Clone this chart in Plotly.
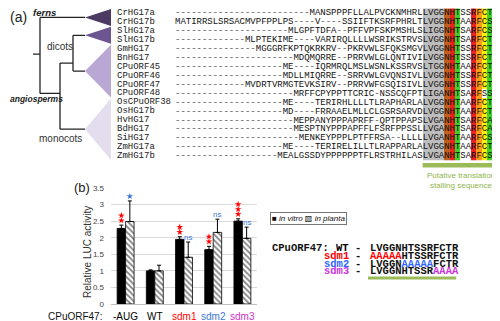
import plotly.graph_objects as go

# The page body adds an 8px margin, so the figure is laid out in page pixels
# shifted by that offset.
OFF = 8
W, H = 500 - OFF, 321 - OFF

def px(x):
    return (x - OFF) / W

def py(y):
    return 1 - (y - OFF) / H

# ---------------- Panel (a) data ----------------
seq_names = ["CrHG17a", "CrHG17b", "SlHG17a", "SlHG17b", "GmHG17", "BnHG17",
             "CPuORF45", "CPuORF46", "CPuORF47", "CPuORF48", "OsCPuORF38",
             "OsHG17b", "HvHG17", "BdHG17", "SiHG17", "ZmHG17a", "ZmHG17b"]
seq_residues = [
    "MANSPPPFLLALPVCKNMHRLLVGGNHTSSRFCTR",
    "MATIRRSLSRSACMVPFPPLPS----V----SSIIFTKSRFPHRLTLVGGNHTAARFCSR",
    "MLGPFTDFA--PFFVPFSKPMSHLSLIGGNHTSARFCSR",
    "MLPTEKIME----VARIRQLLLLWSRIKSTRVSLVGGNHTSARFCTR",
    "MGGGRFKPTQKRKRV--PKRVWLSFQKSMGVLVGGNHTSSRFCTR",
    "MDQMQRRE--PRRVWLGLQNTIVILVGGNHTSSRFCTR",
    "ME----IQRMRQLMSLWSNLKSSRVSLTGGNHTAARFCTR",
    "MDLLMIQRRE--SRRVWLGVQNSIVLLVGGNHTSSRFCTR",
    "MVDRTVRMGTEVKSIRV--PRRVWFGSQISIVLLVGGNHTSSRFCTR",
    "MRFFCPYPPTTCRIC-NSSCQFPTLIGANHTSARFSSR",
    "ME----TERIRHLLLLTLRAPHARLALVGGNHTAARFCTR",
    "MD----FRRAAELMLLCLGSRSARVDLVGGNHTAARFCTR",
    "MEPPANYPPPAPRFF-QPTPPAPSLVGANHTSARFCAR",
    "MESPTNYPPPAPFFLFSRFPPSSLLVGANHTSARFCAR",
    "MENKEYPPPLPTFFRSA--LLLLLVGANHTAARFCSR",
    "ME----TERIRELILLTLRAPPARLALVGGNHTAARFCTR",
    "MEALGSSDYPPPPPPTFLRSTRHILASLVGANHTSARFCSR",
]
ALN_LEN = 60
alignment = [s.rjust(ALN_LEN, "-") for s in seq_residues]

# highlight colour class of each alignment column (by column index)
column_class = {46: 1, 47: 1, 48: 1, 49: 1, 50: 2, 51: 3, 52: 4,
                55: 3, 56: 5, 57: 6, 58: 4, 59: 3}
class_colors = ["rgba(255,255,255,0)", "#bdbdbd", "#c0601e", "#ee2020",
                "#3fd02a", "#ff9a1a", "#ffee10"]

clades = [("ferns", 0, 1, "#4a3a64"), ("Sl", 2, 3, "#6c5692"),
          ("dicots", 4, 9, "#b9a8d3"), ("monocots", 10, 16, "#e4ddee")]
green_arrows = [7, 8]
red_arrows = [10]

# ---------------- Panel (b) data ----------------
constructs = ["-AUG", "WT", "sdm1", "sdm2", "sdm3"]
construct_colors = ["#000000", "#000000", "#ff0000", "#3a78d8", "#cc33cc"]
in_vitro = [2.28, 1.00, 1.95, 1.64, 2.50]
in_vitro_err = [0.10, 0.03, 0.08, 0.10, 0.07]
in_planta = [2.49, 1.00, 1.41, 2.16, 1.98]
in_planta_err = [0.62, 0.17, 0.46, 0.40, 0.34]
in_vitro_stars = [2, 0, 2, 2, 3]
in_planta_sig = ["*", "", "ns", "ns", "ns"]
y_ticks = [0, 0.5, 1, 1.5, 2, 2.5, 3, 3.5]

wt_motif = "LVGGNHTSSRFCTR"
mutant_names = ["WT", "sdm1", "sdm2", "sdm3"]
mutant_colors = ["#000000", "#ff0000", "#3366ff", "#cc33dd"]
mutant_seqs = ["LVGGNHTSSRFCTR", "AAAAAHTSSRFCTR", "LVGGNAAAAAFCTR", "LVGGNHTSSRAAAA"]

# alignment grid geometry (page pixels)
ROW0_Y, ROW_PITCH = 13.0, 8.94
n_rows = len(alignment)

fig = go.Figure()

# ---- alignment highlight cells (heatmap) ----
z = []
for r in range(n_rows):
    row = []
    for c in range(ALN_LEN):
        k = column_class.get(c, 0)
        if r == 9 and c == 57:
            k = 0
        row.append(k)
    z.append(row)
n = len(class_colors)
cs = []
for i, col in enumerate(class_colors):
    cs.append([i / n, col])
    cs.append([(i + 1) / n, col])
fig.add_trace(go.Heatmap(z=z, x=list(range(ALN_LEN)), y=list(range(n_rows)),
                         colorscale=cs, zmin=-0.5, zmax=n - 0.5, showscale=False,
                         hoverinfo="skip", xaxis="x2", yaxis="y2"))

# ---- alignment characters ----
tx, ty, tt, tc = [], [], [], []
for r, s in enumerate(alignment):
    for c, ch in enumerate(s):
        tx.append(c); ty.append(r); tt.append(ch)
        tc.append("#555555" if ch == "-" else "#111111")
fig.add_trace(go.Scatter(x=tx, y=ty, text=tt, mode="text", textposition="middle center",
                         textfont=dict(family="Liberation Mono", size=9, color=tc),
                         hoverinfo="skip", xaxis="x2", yaxis="y2", cliponaxis=False,
                         showlegend=False))

# ---- arrows ----
fig.add_trace(go.Scatter(x=[-0.8] * len(green_arrows), y=green_arrows, mode="markers",
                         marker=dict(symbol="triangle-left", size=8, color="#1a9a1a"),
                         xaxis="x2", yaxis="y2", cliponaxis=False, showlegend=False))
fig.add_trace(go.Scatter(x=[-0.8] * len(red_arrows), y=red_arrows, mode="markers",
                         marker=dict(symbol="triangle-left", size=8, color="#b04a3c"),
                         xaxis="x2", yaxis="y2", cliponaxis=False, showlegend=False))

# ---- bars ----
fig.add_trace(go.Bar(x=list(range(5)), y=in_vitro, name="in vitro",
                     marker=dict(color="black", line=dict(color="black", width=0.8)),
                     error_y=dict(type="data", array=in_vitro_err, arrayminus=[0] * 5,
                                  symmetric=False, color="black", thickness=1, width=2),
                     xaxis="x", yaxis="y", showlegend=False))
fig.add_trace(go.Bar(x=list(range(5)), y=in_planta, name="in planta",
                     marker=dict(color="white", line=dict(color="black", width=0.8),
                                 pattern=dict(shape="\\", fgcolor="black", bgcolor="white",
                                              size=4, solidity=0.45)),
                     error_y=dict(type="data", array=in_planta_err, arrayminus=[0] * 5,
                                  symmetric=False, color="black", thickness=1, width=2),
                     xaxis="x", yaxis="y", showlegend=False))

# ---- significance stars ----
sx, sy = [], []
for i in range(5):
    top = in_vitro[i] + in_vitro_err[i]
    for k in range(in_vitro_stars[i]):
        sx.append(i - 0.145); sy.append(top + 0.14 + 0.15 * k)
fig.add_trace(go.Scatter(x=sx, y=sy, mode="markers",
                         marker=dict(symbol="star", size=5, color="#ff0000", line=dict(width=0)),
                         xaxis="x", yaxis="y", cliponaxis=False, showlegend=False))
bx, by = [], []
for i in range(5):
    if in_planta_sig[i] == "*":
        bx.append(i + 0.145); by.append(in_planta[i] + in_planta_err[i] + 0.14)
fig.add_trace(go.Scatter(x=bx, y=by, mode="markers",
                         marker=dict(symbol="star", size=5, color="#3a78d8", line=dict(width=0)),
                         xaxis="x", yaxis="y", cliponaxis=False, showlegend=False))

annotations = []
shapes = []
for i in range(5):
    if in_planta_sig[i] == "ns":
        annotations.append(dict(x=i + 0.145, y=in_planta[i] + in_planta_err[i], xref="x", yref="y",
                                text="ns", yanchor="bottom", yshift=-2,
                                font=dict(family="Liberation Sans", size=8, color="#3a78d8")))

tree_font = "Liberation Sans"
# category labels under the bars
for i, (t, c) in enumerate(zip(constructs, construct_colors)):
    annotations.append(dict(x=i, xref="x", y=py(316), text=t,
                            font=dict(family=tree_font, size=10, color=c)))

# ---- tree (panel a) ----
for name, r0, r1, col in clades:
    shapes.append(dict(type="path", xref="paper", yref="y2",
                       path=f"M {px(85)} {(r0 + r1) / 2} L {px(111)} {r0 - 0.45} L {px(111)} {r1 + 0.45} Z",
                       fillcolor=col, line=dict(width=0), layer="below"))
tree_lines = [
    (33, 40, 4.6, 4.6), (40, 40, 0.5, 9.0), (40, 85, 0.5, 0.5), (40, 60, 9.0, 9.0),
    (60, 60, 5.6, 13.0), (60, 73, 5.6, 5.6), (73, 73, 2.5, 6.5), (73, 85, 2.5, 2.5),
    (73, 85, 6.5, 6.5), (60, 85, 13.0, 13.0),
]
for x0, x1, y0, y1 in tree_lines:
    shapes.append(dict(type="line", xref="paper", yref="y2", x0=px(x0), x1=px(x1), y0=y0, y1=y1,
                       line=dict(color="#222222", width=1.3)))

for r, nm in enumerate(seq_names):
    annotations.append(dict(x=px(115), y=r, xref="paper", yref="y2", text=nm,
                            xanchor="left", yanchor="middle",
                            font=dict(family="Liberation Mono", size=9, color="#222222")))

annotations += [
    dict(x=px(8), y=py(17), text="(a)", xanchor="left",
         font=dict(family=tree_font, size=14, color="#222")),
    dict(x=px(31), y=py(13), text="<b><i>ferns</i></b>", xanchor="left",
         font=dict(family=tree_font, size=9.5, color="#222")),
    dict(x=px(45), y=py(47), text="dicots", xanchor="left",
         font=dict(family=tree_font, size=10, color="#333")),
    dict(x=px(8), y=py(99), text="<b><i>angiosperms</i></b>", xanchor="left",
         font=dict(family=tree_font, size=8.5, color="#222")),
    dict(x=px(37), y=py(138), text="monocots", xanchor="left",
         font=dict(family=tree_font, size=10, color="#333")),
    dict(x=px(461), y=py(180), text="Putative translation<br>stalling sequence",
         font=dict(family="Liberation Sans", size=8, color="#8fb34d")),
]
shapes.append(dict(type="rect", xref="x2", yref="paper", x0=45.5, x1=59.5, y0=py(167.5), y1=py(163),
                   fillcolor="#9bbb59", line=dict(width=0)))

# ---- panel (b) texts ----
annotations += [
    dict(x=px(72), y=py(187), text="(b)", xanchor="left",
         font=dict(family=tree_font, size=13, color="#222")),
    dict(x=px(87), y=py(252), text="Relative LUC activity", textangle=-90,
         font=dict(family=tree_font, size=10, color="#333")),
    dict(x=px(104), y=py(316), text="CPuORF47:", xanchor="right",
         font=dict(family=tree_font, size=10, color="#111")),
    dict(x=px(308), y=py(218.5), text="■ <i>in vitro</i> ▧ <i>in planta</i>",
         font=dict(family="Liberation Sans, DejaVu Sans", size=8, color="#111"),
         bordercolor="#777", borderwidth=1, borderpad=1),
    dict(x=px(270), y=py(248), text="<b>CPuORF47:</b>", xanchor="left",
         font=dict(family="Liberation Mono", size=10.5, color="#111")),
]
row_y = [248, 256, 263.5, 271]
for nm, col, seq, yy in zip(mutant_names, mutant_colors, mutant_seqs, row_y):
    annotations.append(dict(x=px(351), y=py(yy), text=f"<b>{nm}</b>", xanchor="right",
                            font=dict(family="Liberation Mono", size=10.5, color=col)))
    annotations.append(dict(x=px(358), y=py(yy), text="<b>-</b>",
                            font=dict(family="Liberation Mono", size=10.5, color="#111")))
    parts = []
    for a, b in zip(seq, wt_motif):
        if a != b:
            parts.append(f"<span style='color:{col}'>{a}</span>")
        else:
            parts.append(a)
    annotations.append(dict(x=px(368), y=py(yy), text="<b>" + "".join(parts) + "</b>", xanchor="left",
                            font=dict(family="Liberation Mono", size=10.5, color="#111")))
shapes.append(dict(type="rect", xref="paper", yref="paper", x0=px(368), x1=px(368 + 14 * 6.3),
                   y0=py(279.5), y1=py(276.5), fillcolor="#9bbb59", line=dict(width=0)))

for a in annotations:
    a.setdefault("showarrow", False)
    a.setdefault("xref", "paper")
    a.setdefault("yref", "paper")
    a.setdefault("xanchor", "center")
    a.setdefault("yanchor", "middle")

# y2 axis: page-pixel rows; clamp the top of its domain to the figure top
y2_bottom_px = ROW0_Y + (n_rows - 0.5) * ROW_PITCH
y2_top_px = OFF
y2_range = [n_rows - 0.5, (y2_top_px - ROW0_Y) / ROW_PITCH]

fig.update_layout(
    width=W, height=H, margin=dict(l=0, r=0, t=0, b=0, autoexpand=False),
    paper_bgcolor="white", plot_bgcolor="rgba(0,0,0,0)",
    barmode="group", bargap=0.42, bargroupgap=0,
    showlegend=False,
    xaxis=dict(domain=[px(111), px(257)], range=[-0.5, 4.5], tickvals=list(range(5)),
               showticklabels=False,
               showgrid=False, zeroline=False, showline=True, linecolor="#bfbfbf", linewidth=1,
               ticks="", fixedrange=True, automargin=False),
    yaxis=dict(domain=[py(304), py(188)], range=[0, 3.5], tickvals=y_ticks,
               tickfont=dict(family=tree_font, size=8, color="#444"),
               gridcolor="#d9d9d9", gridwidth=1, zeroline=False, showline=False,
               ticklabelstandoff=6, fixedrange=True, automargin=False),
    xaxis2=dict(domain=[px(175), px(498)], range=[-0.5, ALN_LEN - 0.5], visible=False,
                anchor="y2", automargin=False),
    yaxis2=dict(domain=[py(y2_bottom_px), py(y2_top_px)], range=y2_range, visible=False,
                anchor="x2", automargin=False),
    annotations=annotations, shapes=shapes,
)

fig.write_html("out.html")
